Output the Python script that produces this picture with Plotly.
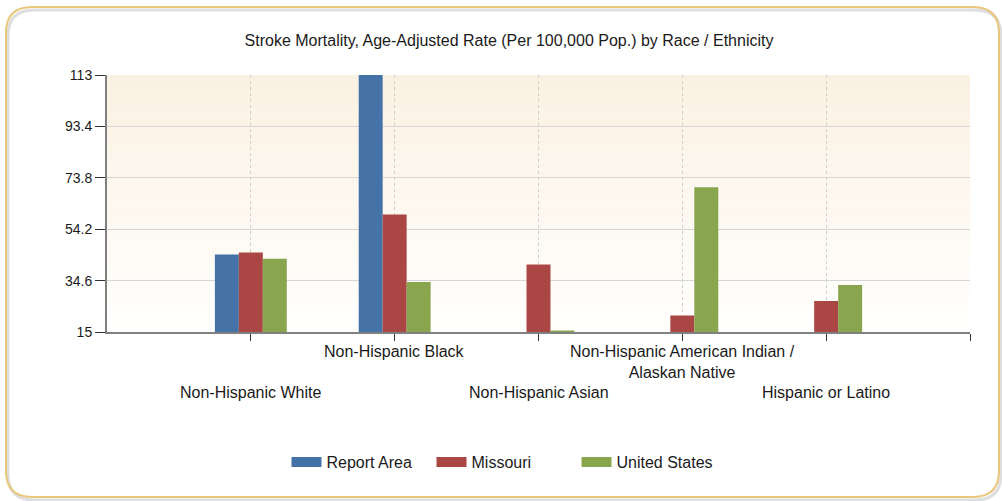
import plotly.graph_objects as go

# data
categories = ['Non-Hispanic White', 'Non-Hispanic Black', 'Non-Hispanic Asian',
              'Non-Hispanic American Indian /<br>Alaskan Native', 'Hispanic or Latino']
report_area = [44.6, 113.0, None, None, None]
missouri = [45.3, 59.8, 40.7, 21.3, 26.8]
united_states = [42.9, 34.1, 15.6, 70.2, 32.9]
y_ticks = [15, 34.6, 54.2, 73.8, 93.4, 113]

W, H = 1002, 501
L, R, T, B = 107, 32, 75, 169
PW, PH = W - L - R, H - T - B

def px(x):
    return (x - L) / PW

def py(y):
    return (H - B - y) / PH

xs = list(range(len(categories)))

fig = go.Figure()
series = [('Report Area', report_area, '#4572A7'),
          ('Missouri', missouri, '#AA4643'),
          ('United States', united_states, '#89A54E')]
for name, vals, col in series:
    fig.add_trace(go.Bar(x=xs, y=vals, name=name, showlegend=False,
                         marker=dict(color=col, line=dict(width=0))))
# legend-only traces so the swatches are wide blocks like the original
for name, vals, col in series:
    fig.add_trace(go.Scatter(x=[None], y=[None], name=name, mode='lines',
                             line=dict(color=col, width=14)))

## gradient background of plot area
shapes = []
n = 30
top, bot = (251, 241, 226), (255, 255, 254)
for i in range(n):
    t = i / (n - 1)
    c = tuple(round(top[k] + (bot[k] - top[k]) * t) for k in range(3))
    shapes.append(dict(type='rect', xref='x domain', yref='y domain', x0=0, x1=1,
                       y0=1 - (i + 1) / n, y1=1 - i / n, layer='below',
                       fillcolor='rgb(%d,%d,%d)' % c, line=dict(width=0)))

## rounded outer frame
def rounded(x0, y0, x1, y1, r):
    return ('M %f,%f L %f,%f Q %f,%f %f,%f L %f,%f Q %f,%f %f,%f L %f,%f Q %f,%f %f,%f L %f,%f Q %f,%f %f,%f Z' % (
        px(x0 + r), py(y0), px(x1 - r), py(y0), px(x1), py(y0), px(x1), py(y0 + r),
        px(x1), py(y1 - r), px(x1), py(y1), px(x1 - r), py(y1),
        px(x0 + r), py(y1), px(x0), py(y1), px(x0), py(y1 - r),
        px(x0), py(y0 + r), px(x0), py(y0), px(x0 + r), py(y0)))

shapes.append(dict(type='path', xref='paper', yref='paper', path=rounded(8, 10, 1001, 500, 26),
                   line=dict(color='rgba(160,160,160,0.35)', width=3), layer='below'))
shapes.append(dict(type='path', xref='paper', yref='paper', path=rounded(6, 7, 999, 497, 26),
                   line=dict(color='#E8C77A', width=2), layer='below'))

## staggered category labels
annotations = []
for i, c in enumerate(categories):
    annotations.append(dict(x=i, xref='x', y=0, yref='paper', yanchor='top',
                            yshift=-9 if i % 2 else -50, text=c, showarrow=False,
                            font=dict(size=16, color='#1a1a1a')))

fig.update_layout(
    width=W, height=H,
    margin=dict(l=L, r=R, t=T, b=B),
    paper_bgcolor='white',
    plot_bgcolor='rgba(0,0,0,0)',
    font=dict(family='Liberation Sans, Arial, sans-serif', color='#1a1a1a'),
    title=dict(text='Stroke Mortality, Age-Adjusted Rate (Per 100,000 Pop.) by Race / Ethnicity',
               x=0.508, xanchor='center', y=0.92, yanchor='middle', yref='container',
               font=dict(size=16, color='#1a1a1a')),
    barmode='group', bargap=0.5, bargroupgap=0,
    xaxis=dict(range=[-1, 5], tickvals=[0, 1, 2, 3, 4, 5], ticktext=[''] * 6,
               showgrid=True, gridcolor='#CDCDCD', griddash='dot', gridwidth=1,
               ticks='outside', ticklen=7, tickcolor='#333', showline=True,
               linecolor='#808080', linewidth=2, zeroline=False),
    yaxis=dict(range=[15, 113], tickvals=y_ticks, ticktext=['15', '34.6', '54.2', '73.8', '93.4', '113'],
               showgrid=True, gridcolor='#D6D6D6', gridwidth=1,
               ticks='outside', ticklen=10, tickcolor='#333', showline=True,
               linecolor='#808080', linewidth=2, zeroline=False,
               tickfont=dict(size=14, color='#1a1a1a')),
    legend=dict(orientation='h', x=px(504), xanchor='center', y=py(462), yanchor='middle',
                font=dict(size=16, color='#1a1a1a'), bgcolor='rgba(0,0,0,0)', traceorder='normal',
                entrywidth=100),
    shapes=shapes,
    annotations=annotations,
)

fig.write_html('out.html', config={'displayModeBar': False},
               post_script="document.body.style.margin='0';")
